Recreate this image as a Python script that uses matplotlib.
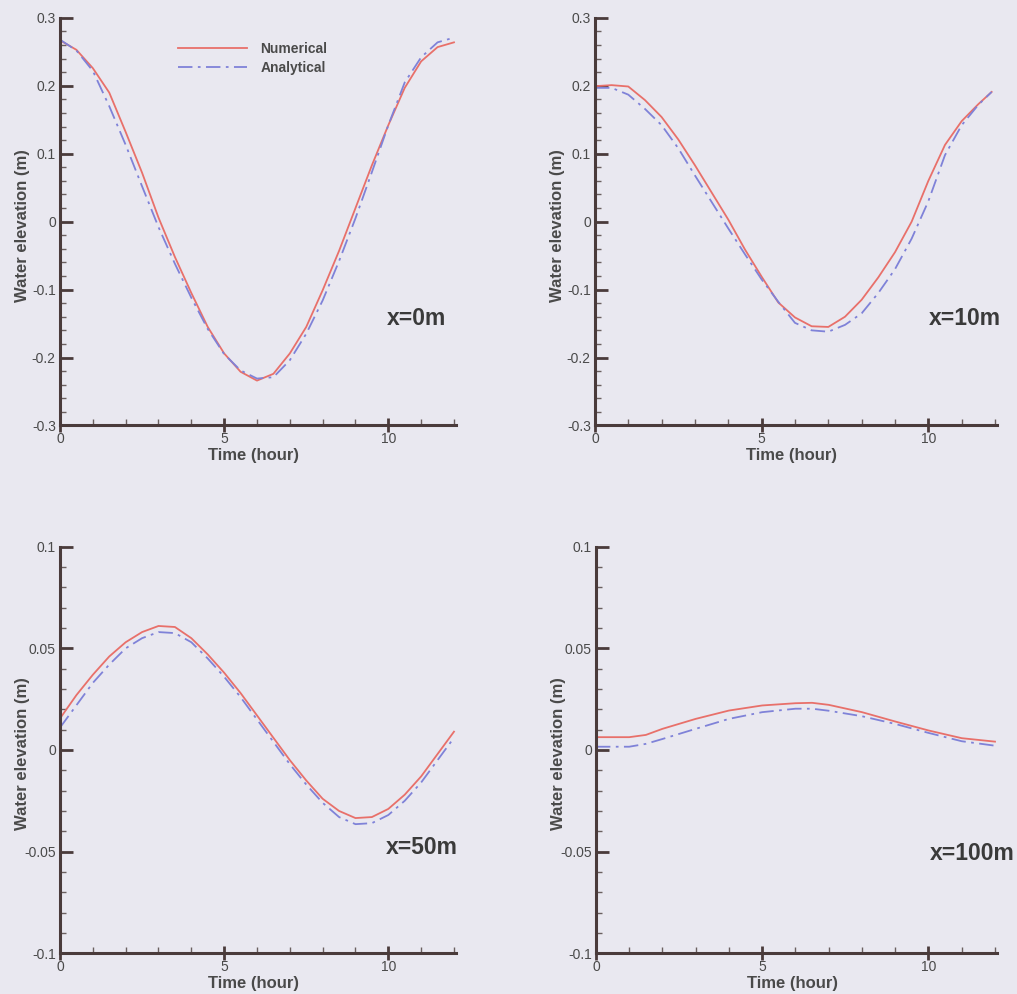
"""Tidal water elevation at four stations: numerical vs analytical."""

import matplotlib

matplotlib.use("Agg")
import matplotlib.pyplot as plt
from matplotlib.ticker import MultipleLocator

plt.rcParams["font.family"] = ["Liberation Sans", "DejaVu Sans"]

BG = "#e9e8f0"
AXIS = "#4a3b3b"
TEXT = "#4a4a4a"
RED = "#e8706a"
BLUE = "#7f82d8"

hours = [0, 0.5, 1, 1.5, 2, 2.5, 3, 3.5, 4, 4.5, 5, 5.5, 6,
         6.5, 7, 7.5, 8, 8.5, 9, 9.5, 10, 10.5, 11, 11.5, 12]

num_x0 = [0.267, 0.253, 0.226, 0.190, 0.132, 0.072, 0.006, -0.052, -0.105, -0.155,
          -0.194, -0.221, -0.234, -0.224, -0.194, -0.155, -0.101, -0.043, 0.020,
          0.083, 0.142, 0.197, 0.236, 0.257, 0.264]
ana_x0 = [0.268, 0.252, 0.222, 0.170, 0.113, 0.052, -0.008, -0.062, -0.112, -0.158,
          -0.195, -0.219, -0.231, -0.229, -0.204, -0.165, -0.116, -0.058, 0.005,
          0.073, 0.142, 0.205, 0.242, 0.264, 0.271]

hours_x10 = [0, 0.5, 1, 1.5, 2, 2.5, 3, 3.5, 4, 4.5, 5, 5.5, 6,
             6.5, 7, 7.5, 8, 8.5, 9, 9.5, 10, 10.5, 11, 11.5, 11.9]
num_x10 = [0.1995, 0.201, 0.199, 0.179, 0.154, 0.121, 0.083, 0.043, 0.003, -0.041,
           -0.081, -0.119, -0.141, -0.154, -0.155, -0.140, -0.115, -0.082, -0.045,
           0.000, 0.060, 0.113, 0.148, 0.173, 0.191]
ana_x10 = [0.197, 0.197, 0.187, 0.166, 0.142, 0.108, 0.068, 0.029, -0.010, -0.048,
           -0.085, -0.118, -0.149, -0.160, -0.162, -0.152, -0.135, -0.105, -0.070,
           -0.025, 0.030, 0.098, 0.142, 0.172, 0.191]

num_x50 = [0.0155, 0.027, 0.037, 0.046, 0.053, 0.058, 0.061, 0.0605, 0.055, 0.047,
           0.038, 0.028, 0.017, 0.006, -0.005, -0.015, -0.024, -0.030, -0.0335,
           -0.033, -0.029, -0.022, -0.013, -0.002, 0.009]
ana_x50 = [0.011, 0.022, 0.033, 0.042, 0.050, 0.055, 0.058, 0.0575, 0.053, 0.045,
           0.036, 0.026, 0.015, 0.004, -0.007, -0.017, -0.026, -0.033, -0.0365,
           -0.036, -0.032, -0.025, -0.016, -0.005, 0.006]

hours_x100 = [0, 1, 1.5, 2, 3, 4, 5, 6, 6.5, 7, 8, 9, 10, 11, 12]
num_x100 = [0.0063, 0.0063, 0.0074, 0.0104, 0.0153, 0.0194, 0.0219, 0.0230, 0.0232,
            0.0222, 0.0186, 0.0140, 0.0096, 0.0058, 0.0041]
ana_x100 = [0.0016, 0.0016, 0.0030, 0.0054, 0.0104, 0.0153, 0.0186, 0.0203, 0.0203,
            0.0193, 0.0166, 0.0128, 0.0084, 0.0043, 0.0021]

big_ticks = ["-0.3", "-0.2", "-0.1", "0", "0.1", "0.2", "0.3"]
small_ticks = ["-0.1", "-0.05", "0", "0.05", "0.1"]

panels = [
    ("x=0m", hours, num_x0, ana_x0, (-0.3, 0.3), 0.02, big_ticks),
    ("x=10m", hours_x10, num_x10, ana_x10, (-0.3, 0.3), 0.02, big_ticks),
    ("x=50m", hours, num_x50, ana_x50, (-0.1, 0.1), 0.01, small_ticks),
    ("x=100m", hours_x100, num_x100, ana_x100, (-0.1, 0.1), 0.01, small_ticks),
]

label_pos = [(0.90, 0.263), (0.92, 0.263), (0.915, 0.26), (0.94, 0.246)]

# axes rectangles in figure fractions (left, bottom, width, height)
rects = [
    (0.059, 0.572, 0.389, 0.410),
    (0.585, 0.572, 0.395, 0.410),
    (0.059, 0.041, 0.389, 0.409),
    (0.586, 0.041, 0.394, 0.409),
]

fig = plt.figure(figsize=(10.17, 9.94), dpi=100, facecolor=BG)

for i, (name, t, num, ana, ylim, minor, ylabels) in enumerate(panels):
    ax = fig.add_axes(rects[i])
    ax.set_facecolor(BG)
    ax.plot(t, num, color=RED, linewidth=1.3, label="Numerical")
    ax.plot(t, ana, color=BLUE, linewidth=1.3, linestyle=(0, (8, 3, 1.5, 3)), label="Analytical")

    ax.set_xlim(0, 12.05)
    ax.set_ylim(*ylim)
    ax.set_xticks([0, 5, 10], ["0", "5", "10"])
    ax.set_yticks([float(v) for v in ylabels], ylabels)
    ax.xaxis.set_minor_locator(MultipleLocator(1))
    ax.yaxis.set_minor_locator(MultipleLocator(minor))

    for side in ("top", "right"):
        ax.spines[side].set_visible(False)
    for side in ("left", "bottom"):
        ax.spines[side].set_color(AXIS)
        ax.spines[side].set_linewidth(2.2)

    ax.tick_params(axis="x", which="major", direction="inout", length=10, width=2, color=AXIS,
                   labelsize=10, labelcolor=TEXT, pad=0)
    ax.tick_params(axis="y", which="major", direction="in", length=9, width=2, color=AXIS,
                   labelsize=10, labelcolor=TEXT, pad=3)
    ax.tick_params(which="minor", direction="in", length=4, width=1, color="#6a6060")

    ax.set_xlabel("Time (hour)", fontsize=12, fontweight="bold", color=TEXT)
    ax.set_ylabel("Water elevation (m)", fontsize=12, fontweight="bold", color=TEXT)
    ax.xaxis.set_label_coords(0.49, -0.056)
    ax.yaxis.set_label_coords(-0.075, 0.49)

    ax.text(label_pos[i][0], label_pos[i][1], name, transform=ax.transAxes,
            ha="center", va="center", fontsize=16.5, fontweight="bold", color="#3a3a3a")

    if i == 0:
        leg = ax.legend(loc="upper left", bbox_to_anchor=(0.28, 0.957), frameon=False,
                        fontsize=10, handlelength=5.0, handletextpad=0.95,
                        labelspacing=0.33, borderpad=0)
        for txt in leg.get_texts():
            txt.set_fontweight("bold")
            txt.set_color(TEXT)

fig.savefig("out.png", dpi=100, facecolor=BG)
